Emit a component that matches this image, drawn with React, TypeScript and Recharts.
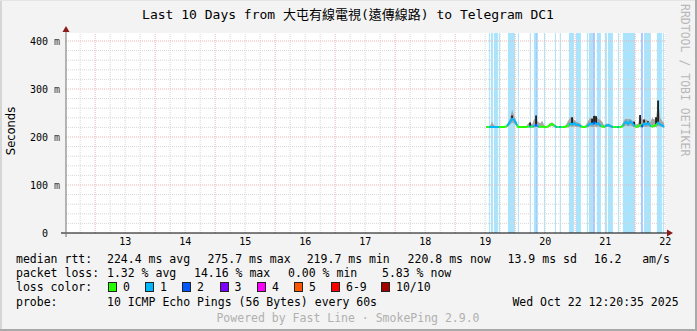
import React from 'react'
import {
  Area,
  Bar,
  CartesianGrid,
  ComposedChart,
  Line,
  ReferenceArea,
  ReferenceLine,
  XAxis,
  YAxis,
} from 'recharts'

// x axis is hours since Oct 12 00:00, samples every 48 min from Oct 19 12:24
const startHour = 180.4
const stepHour = 0.8

// median rtt in ms
const median = [
  221, 221, 221, 221, 221, 221, 221, 221, 221, 221,
  222, 226, 232, 238, 236, 228, 221, 221, 221, 221,
  221, 222, 222, 221, 223, 225, 222, 221, 222, 221,
  221, 222, 226, 227, 224, 221, 221, 221, 221, 221,
  222, 224, 228, 226, 229, 225, 226, 223, 221, 221,
  222, 224, 228, 226, 230, 227, 229, 224, 222, 221,
  224, 225, 223, 221, 221, 221, 221, 221, 222, 228,
  232, 227, 233, 229, 224, 221, 222, 225, 222, 228,
  226, 229, 224, 222, 223, 225, 230, 226, 224, 221,
]

// lost pings (of 10) per sample, colours the median line
const lossCount = [
  0, 0, 1, 1, 1, 1, 1, 0, 0, 0,
  0, 1, 1, 1, 1, 1, 0, 0, 0, 0,
  0, 0, 1, 0, 1, 2, 1, 0, 0, 0,
  0, 0, 0, 0, 0, 1, 0, 1, 0, 0,
  0, 0, 1, 1, 1, 1, 1, 1, 0, 0,
  0, 1, 1, 1, 2, 1, 1, 1, 0, 0,
  1, 1, 1, 1, 0, 0, 1, 0, 0, 1,
  1, 1, 1, 1, 1, 0, 0, 0, 2, 1,
  1, 1, 1, 0, 0, 0, 1, 1, 1, 1,
]

const smokeLow = [
  220, 220, 220, 220, 220, 220, 220, 220, 220, 220,
  220, 222, 226, 230, 228, 224, 220, 220, 220, 220,
  220, 220, 220, 220, 220, 221, 220, 220, 220, 220,
  220, 220, 222, 223, 221, 220, 220, 220, 220, 220,
  220, 220, 222, 221, 222, 221, 221, 220, 220, 220,
  220, 221, 222, 221, 222, 221, 222, 221, 220, 220,
  221, 221, 220, 220, 220, 220, 220, 220, 220, 222,
  224, 222, 224, 222, 221, 220, 220, 221, 220, 222,
  221, 222, 221, 220, 221, 221, 223, 222, 221, 220,
]

const smokeHigh = [
  223, 222, 224, 232, 224, 223, 223, 222, 222, 222,
  223, 230, 240, 257, 244, 234, 224, 222, 222, 222,
  222, 228, 230, 226, 238, 236, 232, 228, 234, 224,
  222, 224, 229, 230, 227, 223, 222, 223, 222, 222,
  226, 234, 240, 241, 236, 232, 230, 228, 224, 222,
  226, 234, 240, 238, 246, 244, 238, 236, 232, 224,
  227, 228, 226, 224, 222, 222, 223, 222, 226, 236,
  238, 237, 238, 234, 232, 226, 228, 246, 236, 238,
  236, 234, 230, 240, 236, 241, 276, 240, 234, 228,
]

// dark core of the smoke where pings bunch up
const darkHigh: (number | null)[] = [
  null, null, null, null, null, null, null, null, null, null,
  null, null, null, 245, null, null, null, null, null, null,
  null, null, 230, null, null, 245, null, null, null, null,
  null, null, null, null, null, null, null, null, null, null,
  null, null, null, 241, null, null, null, null, null, null,
  null, null, null, 238, 244, 243, null, null, null, null,
  null, null, null, null, null, null, null, null, null, null,
  null, null, null, null, 232, null, null, 246, null, 236,
  null, 233, null, null, null, 241, 276, null, null, null,
]

// loss bands in the background
const lossStart = [
  181.5, 182.3, 183.5, 185.5, 189.1, 193.1, 197.9, 199.5, 200.3, 203.5,
  207.9, 209.9, 213.5, 216.3, 220.7, 221.5, 223.1, 224.7, 227.9, 229.1,
  233.1, 235.1, 242.3, 243.5, 248.7, 251.1,
]
const lossEnd = [
  181.9, 183.1, 185.1, 185.9, 191.9, 193.5, 198.3, 201.1, 200.7, 203.9,
  208.3, 210.3, 215.5, 218.3, 221.1, 223.1, 223.9, 226.3, 228.7, 231.1,
  233.5, 239.9, 243.1, 246.3, 250.7, 251.5,
]
const lossLevel = [
  1, 1, 1, 1, 1, 1, 1, 1, 2, 1,
  1, 1, 1, 1, 1, 1, 2, 1, 1, 1,
  1, 1, 2, 1, 1, 1,
]

const dayTicks = [36, 60, 84, 108, 132, 156, 180, 204, 228, 252]
const dayLabels = ['13', '14', '15', '16', '17', '18', '19', '20', '21', '22']
const yTicks = [0, 100, 200, 300, 400]

const lineColors = ['#26ff00', '#00b8ff', '#0059ff']
const bandColors = ['#ffffff', '#a9e4fc', '#a9c6fd']

const legendColors = ['#26ff00', '#00b8ff', '#0059ff', '#7e00ff', '#ff00ff', '#ff5500', '#ff0000', '#a10000']
const legendNames = ['0', '1', '2', '3', '4', '5', '6-9', '10/10']

const MONO = '"DejaVu Sans Mono", "Noto Sans CJK TC", monospace'

const rows = median.map((m, i) => ({
  h: startHour + i * stepHour,
  med: m,
  smoke: [smokeLow[i], smokeHigh[i]],
  dark: darkHigh[i] == null ? null : [m, darkHigh[i]],
}))

const minorX: number[] = []
for (let t = 18; t <= 252; t += 6) if (t % 24 !== 0) minorX.push(t)
const majorX = dayTicks.map((t) => t - 12)
const minorY: number[] = []
for (let v = 20; v <= 400; v += 20) if (v % 100 !== 0) minorY.push(v)

function DayTick(props: any) {
  const { x, y, payload } = props
  const idx = dayTicks.indexOf(payload.value)
  return (
    <text x={x} y={y + 8} textAnchor='middle' dominantBaseline='central' fontFamily={MONO} fontSize={10} fill='#000'>
      {dayLabels[idx]}
    </text>
  )
}

function ValueTick(props: any) {
  const { x, y, payload } = props
  return (
    <g>
      <text x={x - 18} y={y} textAnchor='end' dominantBaseline='central' fontFamily={MONO} fontSize={10} fill='#000'>
        {payload.value}
      </text>
      {payload.value !== 0 && (
        <text x={x - 12} y={y} textAnchor='start' dominantBaseline='central' fontFamily={MONO} fontSize={10} fill='#333'>
          m
        </text>
      )}
    </g>
  )
}

function XAxisShape(p: any) {
  return (
    <g>
      <line x1={p.x1 - 5} y1={p.y1} x2={p.x2 + 2} y2={p.y2} stroke='#000' strokeWidth={1} />
      <polygon points={`${p.x2 + 1},${p.y2 - 3.5} ${p.x2 + 7},${p.y2} ${p.x2 + 1},${p.y2 + 3.5}`} fill='#8b1a1a' />
    </g>
  )
}

function YAxisShape(p: any) {
  const top = Math.min(p.y1, p.y2)
  const bottom = Math.max(p.y1, p.y2)
  return (
    <g>
      <line x1={p.x1} y1={bottom + 4} x2={p.x1} y2={top - 1} stroke='#707070' strokeWidth={1} />
      <polygon points={`${p.x1 - 3.5},${top - 1} ${p.x1},${top - 7} ${p.x1 + 3.5},${top - 1}`} fill='#8b1a1a' />
    </g>
  )
}

function Txt({ x, y, children, color = '#000', size = 11.5, center = false }: any) {
  return (
    <div
      style={{
        position: 'absolute',
        left: x,
        top: y - 8,
        height: 16,
        lineHeight: '16px',
        fontFamily: MONO,
        fontSize: size,
        color,
        whiteSpace: 'pre',
        transform: center ? 'translateX(-50%)' : undefined,
      }}
    >
      {children}
    </div>
  )
}

const rttStats: [string, number][] = [
  ['224.4 ms avg', 107],
  ['275.7 ms max', 207.5],
  ['219.7 ms min', 306.7],
  ['220.8 ms now', 407.6],
  ['13.9 ms sd', 507.6],
  ['16.2', 593.8],
  ['am/s', 642.2],
]
const lossStats: [string, number][] = [
  ['1.32 % avg', 107],
  ['14.16 % max', 194],
  ['0.00 % min', 288],
  ['5.83 % now', 382],
]
const swatchX = [108, 145, 182, 219.5, 257, 294, 331, 381]

export default function App() {
  const n = rows.length
  return (
    <div style={{ position: 'fixed', left: 0, top: 0, width: 697, height: 331, background: '#f3f3f3', overflow: 'hidden' }}>
      <div style={{ position: 'absolute', left: 0, top: 0, width: 2, height: 331, background: '#d6d6d6' }} />
      <div style={{ position: 'absolute', left: 0, top: 0, width: 697, height: 1, background: '#e4e4e4' }} />
      <div style={{ position: 'absolute', right: 0, top: 0, width: 2, height: 331, background: '#a9a9a9' }} />
      <div style={{ position: 'absolute', left: 0, bottom: 0, width: 697, height: 2, background: '#a9a9a9' }} />

      <ComposedChart width={697} height={331} data={rows} margin={{ top: 33, right: 31, bottom: 78, left: 0 }}>
        <defs>
          <linearGradient id='medGrad' x1='0' y1='0' x2='1' y2='0'>
            {lossCount.flatMap((c, i) => [
              <stop key={`a${i}`} offset={i === 0 ? 0 : (i - 0.5) / (n - 1)} stopColor={lineColors[c]} />,
              <stop key={`b${i}`} offset={i === n - 1 ? 1 : (i + 0.5) / (n - 1)} stopColor={lineColors[c]} />,
            ])}
          </linearGradient>
        </defs>
        <CartesianGrid fill='#ffffff' horizontal={false} vertical={false} />
        <XAxis
          dataKey='h'
          type='number'
          domain={[12.333, 252.333]}
          ticks={dayTicks}
          tick={<DayTick />}
          axisLine={false}
          tickLine={false}
          tickSize={0}
          tickMargin={0}
          height={20}
          allowDataOverflow
          interval={0}
        />
        <YAxis
          type='number'
          domain={[0, 416.67]}
          ticks={yTicks}
          tick={<ValueTick />}
          axisLine={false}
          tickLine={false}
          tickSize={0}
          tickMargin={0}
          width={66}
          allowDataOverflow
          interval={0}
        />
        {lossStart.map((s, i) => (
          <ReferenceArea
            key={`loss${i}`}
            x1={s}
            x2={lossEnd[i]}
            fill={bandColors[lossLevel[i]]}
            fillOpacity={1}
            stroke='none'
            zIndex={-90}
          />
        ))}
        {minorX.map((t) => (
          <ReferenceLine key={`mx${t}`} x={t} stroke='#d6d6d6' strokeDasharray='1 1' zIndex={-80} />
        ))}
        {minorY.map((v) => (
          <ReferenceLine key={`my${v}`} y={v} stroke='#d6d6d6' strokeDasharray='1 1' zIndex={-80} />
        ))}
        {majorX.map((t) => (
          <ReferenceLine key={`Mx${t}`} x={t} stroke='#ebb6b6' strokeDasharray='1 1' zIndex={-70} />
        ))}
        {[100, 200, 300, 400].map((v) => (
          <ReferenceLine key={`My${v}`} y={v} stroke='#ebb6b6' strokeDasharray='1 1' zIndex={-70} />
        ))}
        <Area
          dataKey='smoke'
          type='linear'
          fill='#a6a6a6'
          fillOpacity={1}
          stroke='none'
          isAnimationActive={false}
          dot={false}
          activeDot={false}
        />
        <Bar dataKey='dark' fill='#1c1c1c' barSize={2} isAnimationActive={false} />
        <Line
          dataKey='med'
          type='linear'
          stroke='url(#medGrad)'
          strokeWidth={2}
          dot={false}
          activeDot={false}
          isAnimationActive={false}
        />
        <ReferenceLine y={0} shape={XAxisShape} zIndex={500} />
        <ReferenceLine x={12.333} shape={YAxisShape} zIndex={500} />
      </ComposedChart>

      <Txt x={348} y={14.5} size={13} center>
        Last 10 Days from 大屯有線電視(遠傳線路) to Telegram DC1
      </Txt>
      <div
        style={{
          position: 'absolute',
          left: 678,
          top: 4,
          writingMode: 'vertical-rl',
          fontFamily: MONO,
          fontSize: 11.5,
          lineHeight: '14px',
          color: '#b8b8b8',
          whiteSpace: 'pre',
        }}
      >
        RRDTOOL / TOBI OETIKER
      </div>
      <div
        style={{
          position: 'absolute',
          left: 11,
          top: 131,
          transform: 'translate(-50%, -50%) rotate(-90deg)',
          fontFamily: '"DejaVu Sans", sans-serif',
          fontSize: 11.5,
          color: '#000',
          whiteSpace: 'pre',
        }}
      >
        Seconds
      </div>

      <Txt x={16} y={258.5}>median rtt:</Txt>
      {rttStats.map(([t, x]) => (
        <Txt key={t} x={x} y={258.5}>{t}</Txt>
      ))}
      <Txt x={16} y={273}>packet loss:</Txt>
      {lossStats.map(([t, x]) => (
        <Txt key={t} x={x} y={273}>{t}</Txt>
      ))}
      <Txt x={16} y={287}>loss color:</Txt>
      {legendNames.map((name, i) => (
        <React.Fragment key={name}>
          <div
            style={{
              position: 'absolute',
              left: swatchX[i],
              top: 282,
              width: 7,
              height: 8,
              background: legendColors[i],
              border: '1px solid #222',
            }}
          />
          <Txt x={swatchX[i] + 15} y={287}>{name}</Txt>
        </React.Fragment>
      ))}
      <Txt x={16} y={301.5}>probe:</Txt>
      <Txt x={107} y={301.5}>10 ICMP Echo Pings (56 Bytes) every 60s</Txt>
      <Txt x={512.4} y={301.5}>Wed Oct 22 12:20:35 2025</Txt>
      <Txt x={348} y={318} color='#b0b0b0' center>
        Powered by Fast Line · SmokePing 2.9.0
      </Txt>
    </div>
  )
}
